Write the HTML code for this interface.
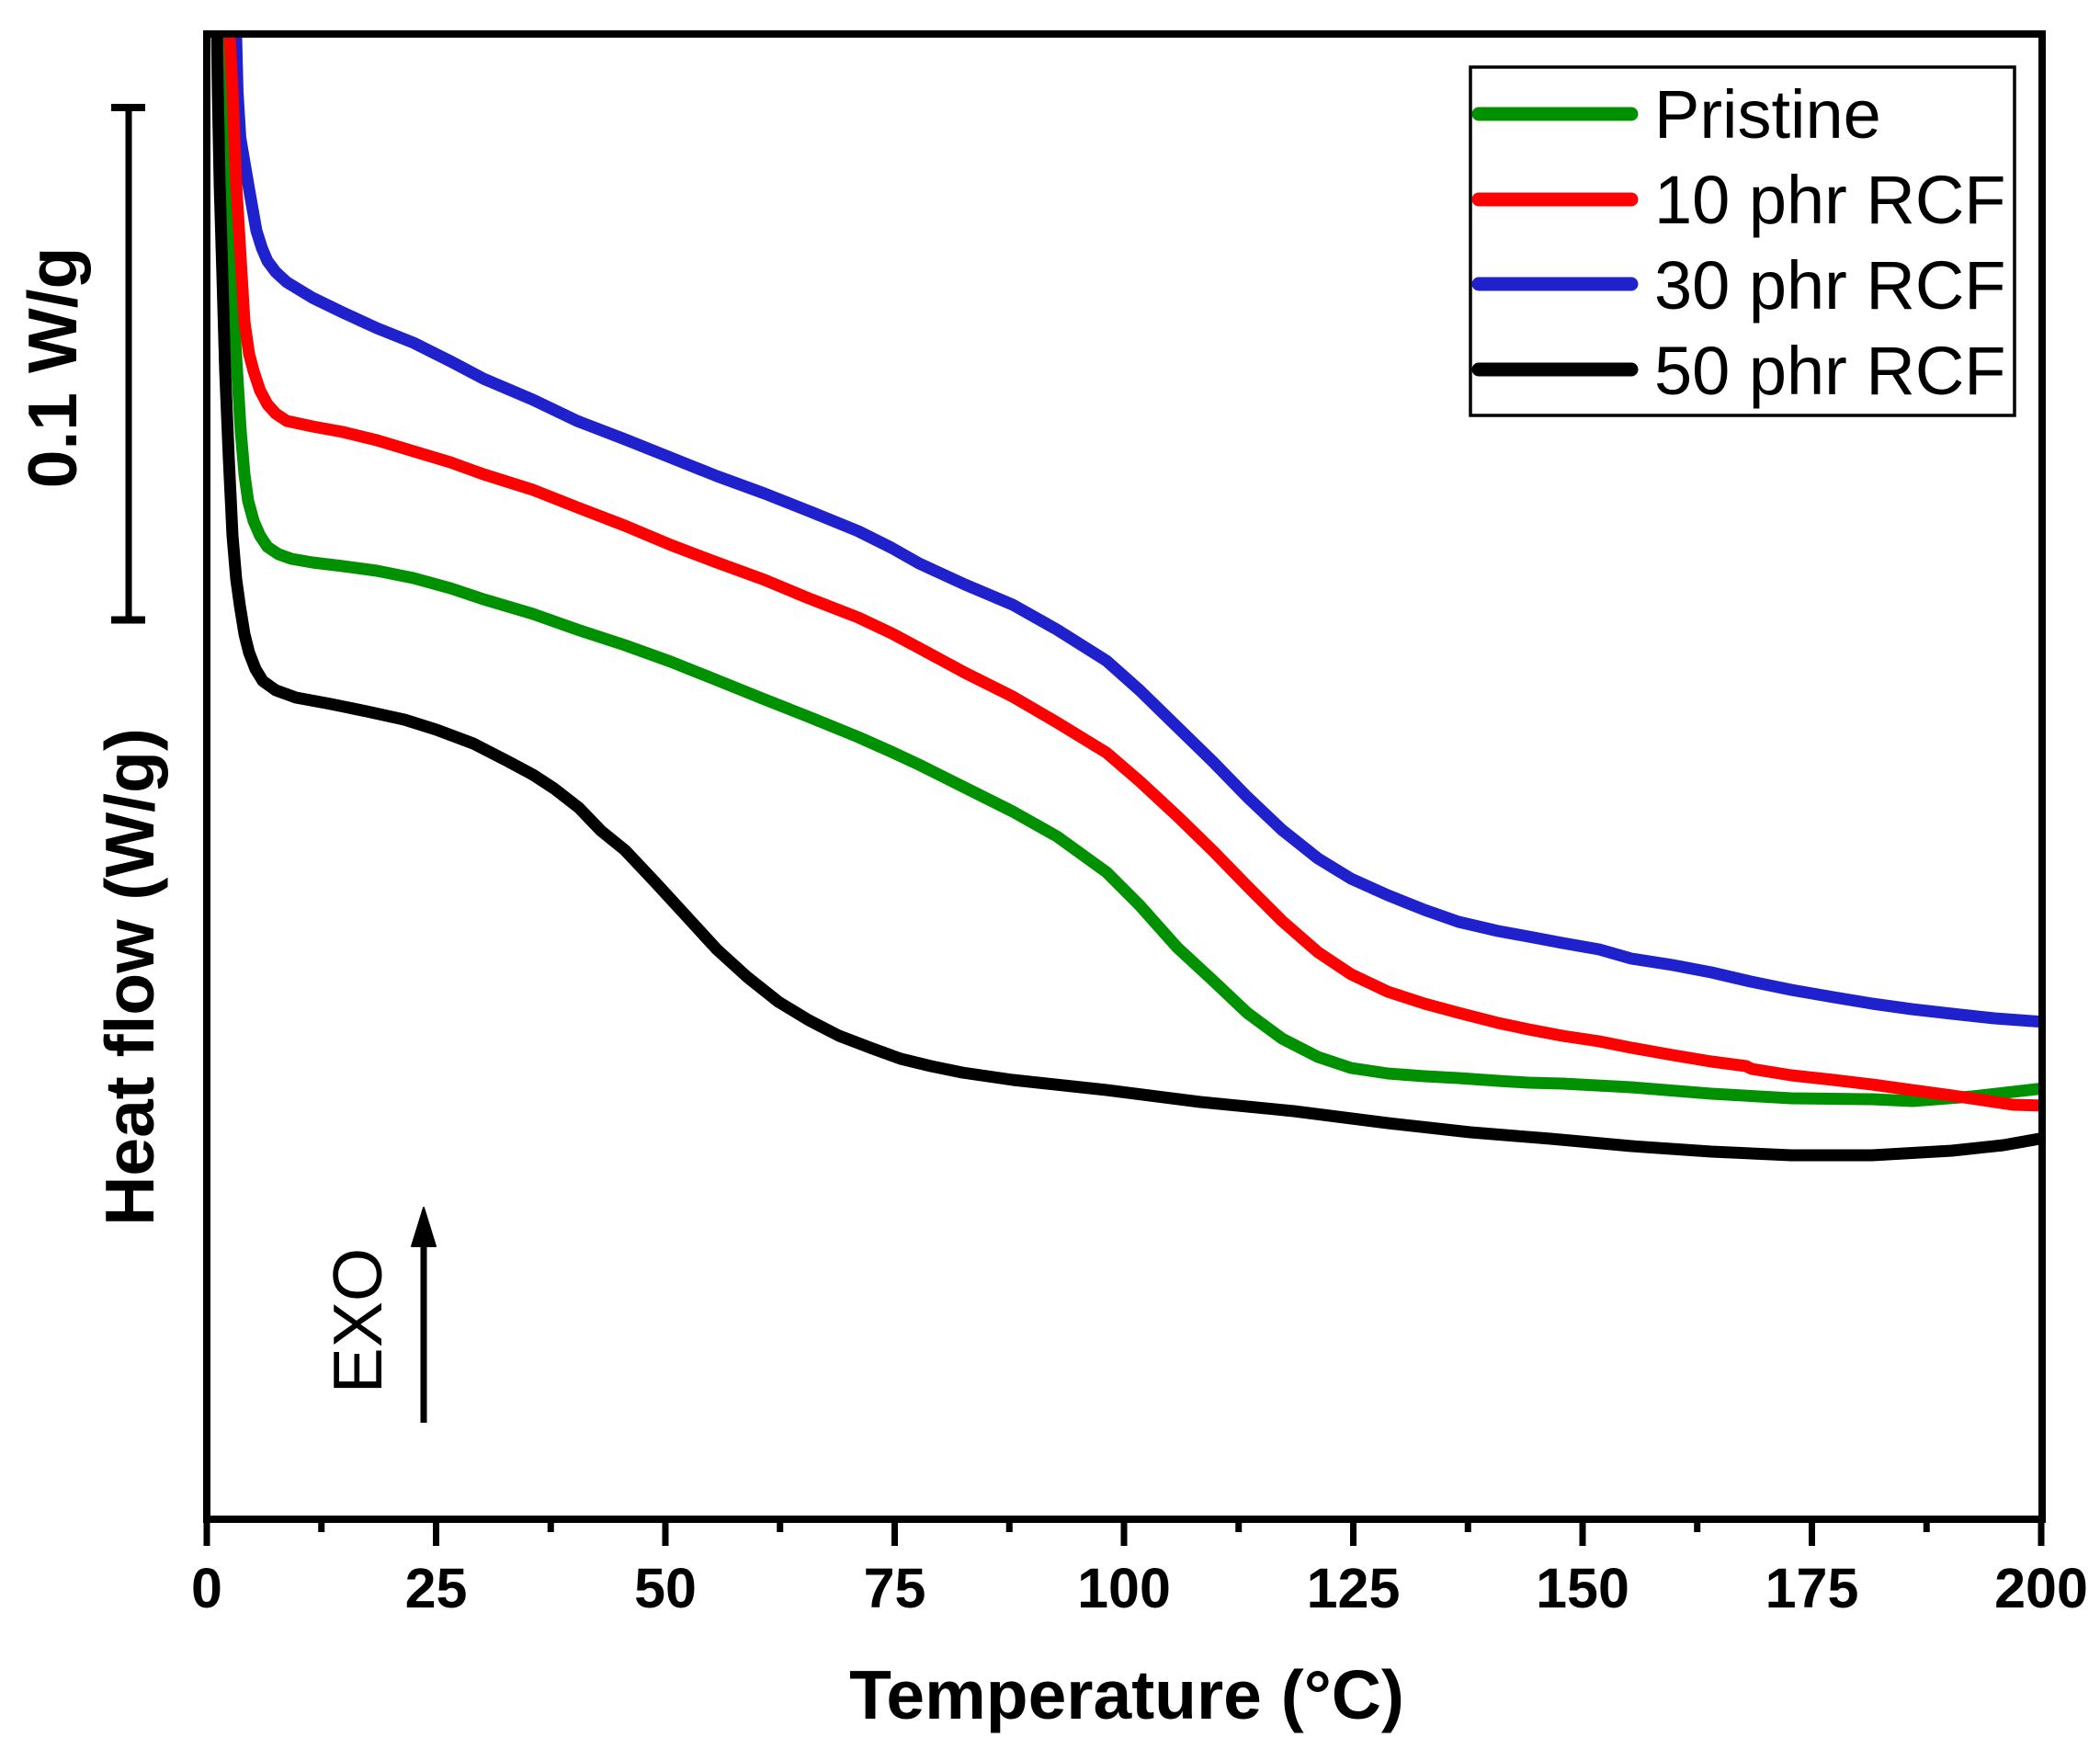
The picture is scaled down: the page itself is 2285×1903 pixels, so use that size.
<!DOCTYPE html>
<html>
<head>
<meta charset="utf-8">
<style>
html,body{margin:0;padding:0;background:#fff;}
svg{display:block;}
</style>
</head>
<body>
<svg width="2285" height="1903" viewBox="0 0 2285 1903" xmlns="http://www.w3.org/2000/svg">
<rect x="0" y="0" width="2285" height="1903" fill="#fff"/>
<defs>
<clipPath id="pc"><rect x="229" y="41" width="1989" height="1608"/></clipPath>
</defs>

<g clip-path="url(#pc)" fill="none" stroke-width="13" stroke-linejoin="round" stroke-linecap="round">
<!-- blue 30 phr -->
<polyline stroke="#1f22cc" points="256,30 257,41 258.5,100 261.5,150 270,200 279,251 285,270 291,284 300,296 312,307 340,324 373,340 410,357 450,373 490,393 526,412 580,435 628,458 680,478 730,498 780,518 832,537 880,556 934,578 970,596 1000,613 1050,636 1102,658 1150,685 1204,719 1240,751 1281,791 1320,829 1357,867 1395,903 1434,934 1470,956 1510,974 1550,990 1587,1003 1630,1013 1663,1019 1700,1026 1740,1033 1775,1043 1820,1050 1862,1058 1905,1068 1949,1077 1995,1085 2037,1092 2080,1098 2124,1103 2170,1108 2225,1112"/>
<!-- green pristine -->
<polyline stroke="#009100" points="244,30 246,100 248,200 251,277 254,340 258,404 262,470 266,516 270,545 276,567 283,583 291,595 303,603 317,608 340,612 373,616 410,621 450,629 490,640 526,652 580,668 628,685 680,702 730,720 780,740 832,761 880,780 934,802 970,818 1000,832 1050,857 1102,883 1150,910 1204,949 1240,985 1281,1031 1320,1067 1357,1102 1395,1130 1434,1150 1470,1162 1510,1168 1550,1171 1587,1173 1630,1176 1663,1178 1700,1179 1775,1183 1862,1190 1949,1195 2037,1196 2081,1198 2146,1193 2225,1184"/>
<!-- red 10 phr -->
<polyline stroke="#ff0000" points="249,30 250,41 253,100 255,150 257,200 260,250 263,300 266,350 271,385 276,404 283,425 291,440 300,450 312,458 340,464 373,470 410,479 450,491 490,503 526,516 580,533 628,552 680,572 730,593 780,612 832,631 880,651 934,672 970,689 1000,705 1050,732 1102,758 1150,786 1204,819 1240,850 1281,888 1320,926 1357,964 1395,1002 1434,1036 1470,1060 1510,1079 1550,1092 1587,1102 1630,1113 1663,1120 1700,1127 1740,1133 1775,1140 1820,1148 1862,1155 1900,1160 1906,1163 1949,1170 1995,1175 2037,1180 2080,1186 2124,1192 2170,1199 2190,1202 2225,1203"/>
<!-- black 50 phr -->
<polyline stroke="#000000" points="236,30 237,100 239,200 242,300 245,404 249,500 253,583 257,630 261,659 266,690 271,710 278,728 286,741 300,751 322,759 360,766 399,774 440,783 475,794 515,809 552,828 580,843 603,858 630,879 654,904 680,925 713,960 747,997 780,1033 813,1063 847,1090 880,1110 913,1127 947,1140 980,1152 1013,1160 1047,1167 1102,1175 1204,1186 1306,1199 1408,1209 1510,1222 1600,1232 1687,1239 1775,1247 1862,1253 1949,1257 2037,1257 2124,1252 2180,1246 2225,1238"/>
</g>

<!-- frame -->
<rect x="225" y="37" width="1997" height="1616" fill="none" stroke="#000" stroke-width="8"/>

<!-- x ticks -->
<g stroke="#000" stroke-width="7">
<line x1="225" y1="1653" x2="225" y2="1682"/>
<line x1="474.5" y1="1653" x2="474.5" y2="1682"/>
<line x1="724" y1="1653" x2="724" y2="1682"/>
<line x1="973.5" y1="1653" x2="973.5" y2="1682"/>
<line x1="1223" y1="1653" x2="1223" y2="1682"/>
<line x1="1472.5" y1="1653" x2="1472.5" y2="1682"/>
<line x1="1722" y1="1653" x2="1722" y2="1682"/>
<line x1="1971.5" y1="1653" x2="1971.5" y2="1682"/>
<line x1="2221" y1="1653" x2="2221" y2="1682"/>
<line x1="349.75" y1="1653" x2="349.75" y2="1667"/>
<line x1="599.25" y1="1653" x2="599.25" y2="1667"/>
<line x1="848.75" y1="1653" x2="848.75" y2="1667"/>
<line x1="1098.25" y1="1653" x2="1098.25" y2="1667"/>
<line x1="1347.75" y1="1653" x2="1347.75" y2="1667"/>
<line x1="1597.25" y1="1653" x2="1597.25" y2="1667"/>
<line x1="1846.75" y1="1653" x2="1846.75" y2="1667"/>
<line x1="2096.25" y1="1653" x2="2096.25" y2="1667"/>
</g>

<g font-family="'Liberation Sans', Arial, sans-serif" font-weight="bold" font-size="61" text-anchor="middle" fill="#000">
<text x="225" y="1749">0</text>
<text x="474.5" y="1749">25</text>
<text x="724" y="1749">50</text>
<text x="973.5" y="1749">75</text>
<text x="1223" y="1749">100</text>
<text x="1472.5" y="1749">125</text>
<text x="1722" y="1749">150</text>
<text x="1971.5" y="1749">175</text>
<text x="2221" y="1749">200</text>
</g>

<text x="1226" y="1870" font-family="'Liberation Sans', Arial, sans-serif" font-weight="bold" font-size="75" text-anchor="middle" fill="#000">Temperature (°C)</text>

<text transform="translate(167,1063) rotate(-90)" font-family="'Liberation Sans', Arial, sans-serif" font-weight="bold" font-size="75" text-anchor="middle" fill="#000">Heat flow (W/g)</text>

<text transform="translate(83,400) rotate(-90)" font-family="'Liberation Sans', Arial, sans-serif" font-weight="bold" font-size="75" text-anchor="middle" fill="#000">0.1 W/g</text>

<!-- scale bar -->
<g stroke="#000">
<line x1="140" y1="117" x2="140" y2="675" stroke-width="7"/>
<line x1="121" y1="117" x2="158" y2="117" stroke-width="8"/>
<line x1="121" y1="674.5" x2="158" y2="674.5" stroke-width="8"/>
</g>

<!-- EXO arrow -->
<text transform="translate(415,1437) rotate(-90)" font-family="'Liberation Sans', Arial, sans-serif" font-size="75" text-anchor="middle" fill="#000">EXO</text>
<line x1="461" y1="1548" x2="461" y2="1345" stroke="#000" stroke-width="7"/>
<polygon points="461,1314 448,1356 474,1356" fill="#000" stroke="#000" stroke-width="2" stroke-linejoin="round"/>

<!-- legend -->
<rect x="1600" y="73" width="592" height="379" fill="#fff" stroke="#000" stroke-width="3.5"/>
<g stroke-width="15" stroke-linecap="round">
<line x1="1609" y1="124" x2="1775" y2="124" stroke="#009100"/>
<line x1="1609" y1="217" x2="1775" y2="217" stroke="#ff0000"/>
<line x1="1609" y1="309" x2="1775" y2="309" stroke="#1f22cc"/>
<line x1="1609" y1="402" x2="1775" y2="402" stroke="#000000"/>
</g>
<g font-family="'Liberation Sans', Arial, sans-serif" font-size="74" fill="#000">
<text x="1800" y="150">Pristine</text>
<text x="1800" y="243">10 phr RCF</text>
<text x="1800" y="336">30 phr RCF</text>
<text x="1800" y="429">50 phr RCF</text>
</g>
</svg>
</body>
</html>
